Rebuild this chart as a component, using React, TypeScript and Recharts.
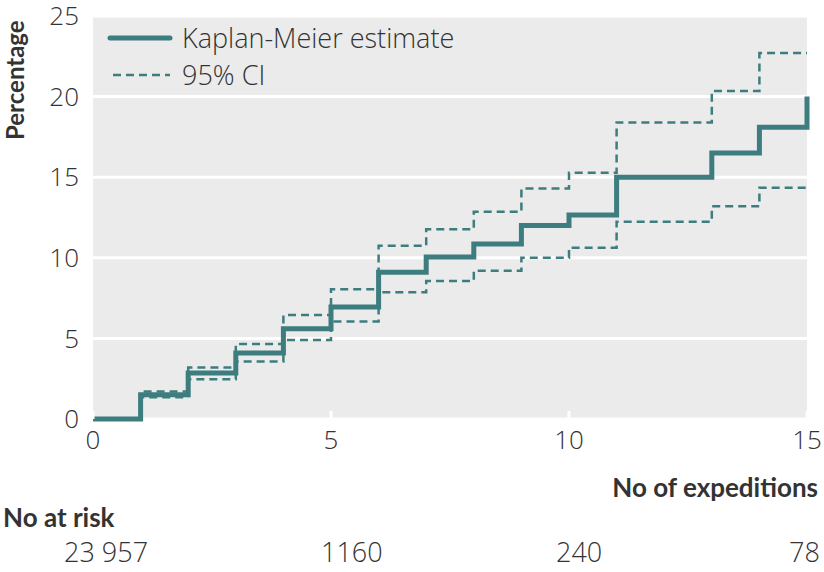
import React from "react";
import { LineChart, Line, XAxis, YAxis, CartesianGrid } from "recharts";

// Data
const expeditions = [0, 1, 2, 3, 4, 5, 6, 7, 8, 9, 10, 11, 12, 13, 14, 15];
const kmEstimate = [0, 1.5, 2.85, 4.1, 5.6, 6.95, 9.1, 10.05, 10.85, 12.0, 12.65, 15.0, 15.0, 16.5, 18.1, 20.0];
const ciUpper = [0, 1.7, 3.2, 4.65, 6.45, 8.05, 10.75, 11.77, 12.86, 14.3, 15.28, 18.4, 18.4, 20.35, 22.7, 22.7];
const ciLower = [0, 1.35, 2.46, 3.56, 4.9, 6.05, 7.86, 8.56, 9.2, 10.0, 10.63, 12.24, 12.24, 13.2, 14.35, 14.35];
const xTicks = [0, 5, 10, 15];
const yTicks = [0, 5, 10, 15, 20, 25];
const atRisk = ["23 957", "1160", "240", "78"];

const data = expeditions.map((x, i) => ({
  x,
  km: kmEstimate[i],
  upper: ciUpper[i],
  lower: ciLower[i],
}));

const TEAL = "#3e7d7f";
const TEXT = "#333333";
const FONT = "'Open Sans', Lato, sans-serif";
const BOLD_FONT = "Lato, 'Open Sans', sans-serif";

// left edges of the at-risk numbers
const atRiskLeft = [64, 321, 556, 789];

const LegendBox = () => (
  <div
    style={{
      position: "absolute",
      left: 106,
      top: 19,
      fontFamily: FONT,
      fontWeight: 300,
      fontSize: 27,
      color: TEXT,
      lineHeight: "37px",
    }}
  >
    <div style={{ display: "flex", alignItems: "center" }}>
      <svg width={76} height={20}>
        <line x1={4} y1={10} x2={64} y2={10} stroke={TEAL} strokeWidth={5} strokeLinecap="round" />
      </svg>
      <span>Kaplan-Meier estimate</span>
    </div>
    <div style={{ display: "flex", alignItems: "center" }}>
      <svg width={76} height={20}>
        <line x1={7} y1={10} x2={64} y2={10} stroke={TEAL} strokeWidth={2.5} strokeDasharray="8 5" />
      </svg>
      <span>95% CI</span>
    </div>
  </div>
);

export default function App() {
  return (
    <div style={{ position: "absolute", left: 0, top: 0, width: 824, height: 572, background: "#fff" }}>
      <LineChart
        width={824}
        height={572}
        data={data}
        margin={{ top: 16, right: 17, bottom: 0, left: 0 }}
      >
        <CartesianGrid fill="#ebebeb" vertical={false} stroke="#ffffff" strokeWidth={3} />
        <XAxis
          dataKey="x"
          type="number"
          domain={[0, 15]}
          ticks={xTicks}
          height={153}
          axisLine={false}
          tickLine={{ stroke: "#ffffff", strokeWidth: 3 }}
          tickSize={-8}
          tickMargin={20}
          tick={{ fill: TEXT, fontSize: 26, fontFamily: FONT, fontWeight: 300 }}
        />
        <YAxis
          type="number"
          domain={[0, 25]}
          ticks={yTicks}
          width={93}
          axisLine={false}
          tickLine={false}
          tickMargin={8}
          tick={{ fill: TEXT, fontSize: 26, fontFamily: FONT, fontWeight: 300 }}
        />
        <Line
          type="stepAfter"
          dataKey="upper"
          stroke={TEAL}
          strokeWidth={2.5}
          strokeDasharray="8 5"
          dot={false}
          isAnimationActive={false}
        />
        <Line
          type="stepAfter"
          dataKey="lower"
          stroke={TEAL}
          strokeWidth={2.5}
          strokeDasharray="8 5"
          dot={false}
          isAnimationActive={false}
        />
        <Line
          type="stepAfter"
          dataKey="km"
          stroke={TEAL}
          strokeWidth={5}
          dot={false}
          isAnimationActive={false}
        />
      </LineChart>

      <LegendBox />

      <div
        style={{
          position: "absolute",
          left: 2,
          top: 140,
          transformOrigin: "0 0",
          transform: "rotate(-90deg)",
          fontFamily: BOLD_FONT,
          fontWeight: 700,
          fontSize: 24,
          color: TEXT,
          whiteSpace: "nowrap",
          lineHeight: "26px",
        }}
      >
        Percentage
      </div>
      <div
        style={{
          position: "absolute",
          right: 6,
          top: 471,
          fontFamily: BOLD_FONT,
          fontWeight: 700,
          fontSize: 26,
          color: TEXT,
          lineHeight: "32px",
        }}
      >
        No of expeditions
      </div>
      <div
        style={{
          position: "absolute",
          left: 3,
          top: 501,
          fontFamily: BOLD_FONT,
          fontWeight: 700,
          fontSize: 26,
          color: TEXT,
          lineHeight: "32px",
        }}
      >
        No at risk
      </div>
      {atRisk.map((n, i) => (
        <div
          key={n}
          style={{
            position: "absolute",
            left: atRiskLeft[i],
            top: 535,
            fontFamily: FONT,
            fontWeight: 300,
            fontSize: 27,
            color: TEXT,
            lineHeight: "34px",
            whiteSpace: "nowrap",
          }}
        >
          {n}
        </div>
      ))}
    </div>
  );
}
